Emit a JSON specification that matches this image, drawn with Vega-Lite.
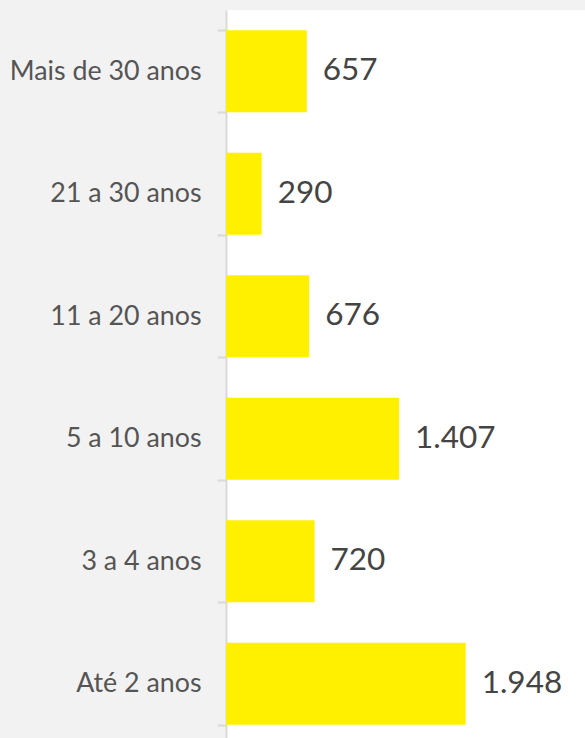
{
  "$schema": "https://vega.github.io/schema/vega-lite/v6.json",
  "width": 359,
  "height": 735,
  "padding": {"left": 9, "top": -3, "right": 0, "bottom": 0},
  "autosize": {"type": "pad"},
  "background": "#f2f2f2",
  "view": {"fill": "white", "stroke": null},
  "data": {"values": [
    {"faixa": "Mais de 30 anos", "valor": 657, "rotulo": "657"},
    {"faixa": "21 a 30 anos", "valor": 290, "rotulo": "290"},
    {"faixa": "11 a 20 anos", "valor": 676, "rotulo": "676"},
    {"faixa": "5 a 10 anos", "valor": 1407, "rotulo": "1.407"},
    {"faixa": "3 a 4 anos", "valor": 720, "rotulo": "720"},
    {"faixa": "Até 2 anos", "valor": 1948, "rotulo": "1.948"}
  ]},
  "encoding": {
    "y": {
      "field": "faixa", "type": "nominal", "sort": null,
      "scale": {"paddingInner": 0.33, "paddingOuter": 0.165},
      "axis": {
        "title": null, "domainColor": "#d9d9d9", "domainWidth": 2,
        "tickColor": "#d9d9d9", "tickWidth": 2, "tickSize": 9, "tickBand": "extent",
        "labelFont": "Lato", "labelFontSize": 26.8, "labelColor": "#555555", "labelPadding": 16, "labelLimit": 400
      }
    },
    "x": {
      "field": "valor", "type": "quantitative",
      "scale": {"domain": [0, 2918], "nice": false},
      "axis": null
    }
  },
  "layer": [
    {"mark": {"type": "bar", "color": "#fff000"}},
    {"mark": {"type": "text", "align": "left", "dx": 16, "font": "Lato", "fontSize": 31.5, "color": "#444444"},
     "encoding": {"text": {"field": "rotulo"}}}
  ]
}
